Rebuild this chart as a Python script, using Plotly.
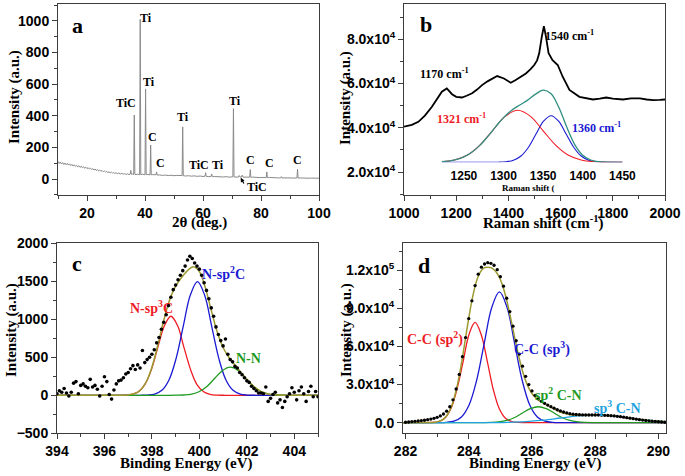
import numpy as np
import plotly.graph_objects as go

# ---------------- Panel a: XRD ----------------
xrd_2theta = [10.0, 10.4, 10.8, 11.2, 11.6, 12.0, 12.4, 12.8, 13.2, 13.6, 14.0, 14.4, 14.8, 15.2, 15.6,
              16.0, 16.4, 16.8, 17.2, 17.6, 18.0, 18.4, 18.8, 19.2, 19.6, 20.0, 20.4, 20.8, 21.2, 21.6,
              22.0, 22.4, 22.8, 23.2, 23.6, 24.0, 24.4, 24.8, 25.2, 25.6, 26.0, 26.4, 26.8, 27.2, 27.6,
              28.0, 28.4, 28.8, 29.2, 29.6, 30.0, 30.5, 31.0, 31.5, 32.0, 32.5, 33.0, 33.5, 34.0, 34.5,
              34.9, 35.1, 35.3, 35.6, 36.1, 36.3, 36.5, 36.9, 37.5, 38.15, 38.35, 38.55, 39.2, 40.0,
              40.2, 40.4, 41.0, 41.75, 41.95, 42.15, 42.7, 43.3, 43.8, 44.0, 44.2, 45.0, 46.0, 47.0,
              48.0, 49.0, 50.0, 51.0, 52.0, 52.8, 53.0, 53.2, 54.0, 55.0, 56.0, 57.0, 58.0, 59.0, 60.0,
              60.7, 60.9, 61.1, 62.0, 62.8, 63.0, 63.2, 64.0, 65.0, 66.0, 67.0, 68.0, 69.0, 70.3, 70.5,
              70.7, 71.5, 72.2, 72.5, 72.8, 73.3, 73.5, 73.8, 74.5, 75.2, 76.1, 76.3, 76.5, 77.0, 78.0,
              79.0, 80.0, 81.0, 81.8, 82.0, 82.2, 83.0, 84.0, 85.0, 86.0, 86.8, 87.0, 87.2, 88.0, 89.0,
              90.0, 91.0, 92.4, 92.6, 92.8, 93.5, 94.5, 95.5, 96.5, 97.5, 98.5, 99.5, 100.0]
xrd_counts = [112, 98, 108, 95, 104, 92, 101, 90, 99, 88, 96, 85, 93, 82, 90,
              80, 87, 77, 84, 74, 81, 71, 78, 68, 75, 66, 72, 63, 69, 60,
              66, 57, 63, 54, 60, 51, 57, 49, 54, 46, 51, 44, 48, 41, 46,
              39, 44, 37, 42, 35, 40, 34, 38, 32, 36, 31, 34, 29, 33, 28,
              31, 55, 30, 32, 29, 405, 30, 28, 31, 27, 1010, 28, 30, 27,
              570, 28, 29, 26, 215, 27, 28, 25, 27, 45, 25, 26, 23, 25,
              22, 24, 21, 23, 20, 22, 330, 21, 19, 21, 18, 20, 17, 19, 16,
              18, 40, 17, 15, 17, 32, 15, 16, 14, 16, 13, 15, 12, 14, 445,
              13, 14, 12, 22, 13, 12, 25, 12, 13, 11, 12, 60, 11, 12, 10,
              11, 9, 10, 9, 45, 9, 10, 8, 9, 7, 8, 15, 7, 8, 6,
              7, 6, 7, 62, 6, 7, 5, 6, 5, 6, 4, 5, 5]
xrd_labels = ["Ti", "Ti", "TiC", "C", "C", "Ti", "TiC", "Ti", "Ti", "C", "C", "C", "TiC"]
xrd_label_x = [40.2, 41.4, 33.3, 42.6, 45.4, 53.0, 58.6, 65.2, 71.0, 76.4, 83.1, 92.6, 78.5]
xrd_label_y = [1021, 616, 479, 268, 99, 390, 89, 89, 496, 120, 99, 120, -52]

# ---------------- Panel b: Raman ----------------
raman_shift = [1000, 1030, 1055, 1080, 1107, 1130, 1145, 1164, 1184, 1200,
               1222, 1240, 1261, 1280, 1299, 1320, 1338, 1357, 1383, 1409,
               1428, 1450, 1467, 1485, 1499, 1510, 1518, 1528, 1536, 1544,
               1554, 1569, 1589, 1608, 1634, 1672, 1700, 1724, 1750, 1775,
               1800, 1839, 1870, 1904, 1930, 1955, 1980, 2000]
raman_int_k = [40.5, 41.3, 42.7, 45.5, 49.5, 53.5, 56.3, 57.8, 55.2, 54.0,
               53.7, 54.5, 55.6, 57.3, 59.3, 61.0, 62.3, 63.4, 62.3, 60.4,
               61.6, 63.4, 64.6, 66.5, 68.4, 70.5, 73.7, 81.2, 86.0, 81.2,
               73.7, 70.6, 68.4, 63.1, 57.1, 54.0, 53.2, 52.8, 53.2, 53.7,
               53.2, 52.8, 53.3, 53.3, 52.8, 52.5, 52.6, 52.8]
raman_yticks = [20, 40, 60, 80]
raman_yticktext = ["2.0x10<sup>4</sup>", "4.0x10<sup>4</sup>", "6.0x10<sup>4</sup>", "8.0x10<sup>4</sup>"]

inset_red_x = [1222, 1238, 1254, 1270, 1286, 1302, 1318, 1334, 1350, 1366, 1382, 1398, 1414, 1430, 1450]
inset_red_y = [0.58, 2.3, 7.0, 16.9, 31.5, 45.9, 52, 45.9, 31.5, 16.9, 7.0, 2.3, 0.58, 0.11, 0]
inset_blue_x = [1222, 1284, 1293.5, 1303, 1312.5, 1322, 1331.5, 1341, 1350.5, 1360, 1369.5, 1379,
                1388.5, 1398, 1407.5, 1417, 1426.5, 1436, 1450]
inset_blue_y = [0, 0.01, 0.1, 0.52, 2.05, 6.3, 15.1, 28.3, 41.1, 46.6, 41.1, 28.3,
                15.1, 6.3, 2.05, 0.52, 0.1, 0.01, 0]
inset_fit_x = [1222, 1230, 1240, 1250, 1260, 1270, 1280, 1290, 1300, 1310, 1320, 1330,
               1340, 1350, 1360, 1370, 1380, 1390, 1400, 1410, 1420, 1430, 1450]
inset_fit_y = [0.6, 1.2, 2.7, 5.4, 10.1, 16.9, 25.7, 35.5, 44.7, 51.9, 57.1, 61.9,
               67.9, 72.1, 68.6, 54.5, 34.8, 17.5, 7.1, 2.3, 0.6, 0.1, 0]
inset_ticks = [1250, 1300, 1350, 1400, 1450]

# ---------------- Panel c: N 1s XPS ----------------
c_dots_start, c_dots_step = 394.0, 0.1
c_dots_y = [20, 60, 40, 90, 30, -10, 40, 160, 180, 20,
            130, 150, 120, 100, 210, 110, 130, 80, -10, 120,
            245, 180, 10, -50, 70, 150, 190, 200, 230, 280,
            300, 350, 390, 340, 400, 360, 590, 430, 470, 500,
            540, 600, 690, 760, 870, 960, 1060, 1180, 1290, 1390,
            1450, 1520, 1580, 1640, 1700, 1780, 1830, 1800, 1740, 1700,
            1660, 1580, 1480, 1380, 1270, 1150, 1040, 900, 800, 720,
            650, 740, 540, 470, 440, 380, 360, 300, 270, 230,
            190, 170, 120, 90, 60, 30, 30, 20, 110, -80,
            -40, 10, 40, -100, -60, -160, -80, -20, 20, 100,
            40, -60, 60, 110, 20, -80, 50, 120, -20, 50,
            -20]
c_red_x = [394.0, 395.5, 396.88, 397.15, 397.43, 397.70, 397.98, 398.25, 398.53, 398.80, 399.08,
           399.35, 399.63, 399.90, 400.18, 400.45, 400.73, 401.1, 402.5, 405.0]
c_red_y = [0, 0, 2, 12, 46, 141, 338, 631, 918, 1040, 918,
           631, 338, 141, 46, 12, 2, 0.2, 0, 0]
c_blue_x = [394.0, 396.0, 397.5, 397.82, 398.12, 398.42, 398.72, 399.02, 399.32, 399.62, 399.92,
            400.22, 400.52, 400.82, 401.12, 401.42, 401.72, 402.02, 402.4, 403.5, 405.0]
c_blue_y = [0, 0, 0.3, 3, 17, 66, 202, 485, 907, 1319, 1495,
            1319, 907, 485, 202, 66, 17, 3, 0.3, 0, 0]
c_green_x = [394.0, 397.0, 398.7, 399.03, 399.35, 399.68, 400.0, 400.33, 400.65, 400.98, 401.3,
             401.63, 401.95, 402.28, 402.6, 402.93, 403.25, 403.58, 403.9, 405.0]
c_green_y = [0, 0, 0.2, 1, 4, 16, 50, 120, 224, 327, 370,
             327, 224, 120, 50, 16, 4, 1, 0.2, 0]
c_fit_x = [394.0, 395.5, 396.75, 397.0, 397.25, 397.5, 397.75, 398.0, 398.25, 398.5, 398.75, 399.0,
           399.25, 399.5, 399.75, 400.0, 400.25, 400.5, 400.75, 401.0, 401.25, 401.5, 401.75,
           402.0, 402.25, 402.5, 402.75, 403.0, 403.25, 403.5, 403.8, 405.0]
c_fit_y = [0, 0, 1, 5, 20, 64, 170, 370, 662, 987, 1259, 1435,
           1549, 1641, 1692, 1628, 1417, 1120, 835, 629, 497, 400, 305,
           211, 128, 67, 31, 12, 4, 1, 0.2, 0]

# ---------------- Panel d: C 1s XPS (values in thousands) ----------------
d_dots_start, d_dots_step = 282.0, 0.1
d_dots_k = [0.3, 0.5, 0.8, 1.0, 1.3, 1.6, 1.9, 2.3, 2.8, 3.4,
            4.2, 5.3, 6.8, 9.0, 12.5, 18, 26.5, 38, 52, 67,
            82, 96, 108, 117, 122.5, 125, 126, 125.5, 124, 120.5,
            115, 107.5, 98, 87.5, 76, 64.5, 54, 44.5, 36.5, 30,
            25, 21.5, 18.8, 16.8, 15.2, 13.8, 12.6, 11.4, 10.2, 9.2,
            8.4, 7.7, 7.1, 6.7, 6.4, 6.2, 6.1, 6.0, 6.0, 6.0,
            6.0, 6.0, 5.9, 5.8, 5.7, 5.5, 5.3, 5.0, 4.7, 4.3,
            3.9, 3.5, 3.1, 2.7, 2.3, 2.0, 1.7, 1.4, 1.1, 0.9,
            0.7, 0.5, 0.3]
d_red_x = [281.92, 282.6, 282.85, 283.05, 283.24, 283.43, 283.62, 283.82, 284.01, 284.2, 284.39,
           284.59, 284.78, 284.97, 285.16, 285.36, 285.55, 285.8, 287.0, 290.24]
d_red_k = [0, 0.02, 0.17, 0.88, 3.47, 10.7, 25.7, 47.9, 69.7, 79, 69.7,
           47.9, 25.7, 10.7, 3.47, 0.88, 0.17, 0.02, 0, 0]
d_blue_x = [281.92, 283.0, 283.29, 283.53, 283.77, 284.01, 284.25, 284.49, 284.73, 284.97, 285.21,
            285.45, 285.69, 285.93, 286.17, 286.41, 286.65, 286.95, 288.0, 290.24]
d_blue_k = [0, 0.03, 0.23, 1.14, 4.5, 13.9, 33.4, 62.5, 90.9, 103, 90.9,
            62.5, 33.4, 13.9, 4.5, 1.14, 0.23, 0.03, 0, 0]
d_green_x = [281.92, 283.5, 284.2, 284.45, 284.7, 284.95, 285.2, 285.45, 285.7, 285.95, 286.2,
             286.45, 286.7, 286.95, 287.2, 287.45, 287.7, 287.95, 288.2, 289.0, 290.24]
d_green_k = [0, 0, 0.005, 0.03, 0.14, 0.55, 1.69, 4.06, 7.6, 11.0, 12.5,
             11.0, 7.6, 4.06, 1.69, 0.55, 0.14, 0.03, 0.005, 0, 0]
d_cyan_x = [281.92, 283.6, 284.15, 284.7, 285.25, 285.8, 286.35, 286.9, 287.45, 288.0,
            288.55, 289.1, 289.65, 290.24]
d_cyan_k = [0, 0.002, 0.01, 0.07, 0.26, 0.81, 1.95, 3.64, 5.3, 6.0,
            5.3, 3.64, 1.95, 0.78]
d_fit_x = [281.92, 282.6, 282.8, 282.9, 283.0, 283.1, 283.2, 283.3, 283.4, 283.5, 283.6, 283.7,
           283.8, 283.9, 284.0, 284.1, 284.2, 284.3, 284.4, 284.5, 284.6, 284.7, 284.8, 284.9,
           285.0, 285.1, 285.2, 285.3, 285.4, 285.5, 285.6, 285.7, 285.8, 285.9, 286.0, 286.1,
           286.2, 286.3, 286.4, 286.5, 286.6, 286.7, 286.8, 286.9, 287.0, 287.1, 287.2, 287.3,
           287.4, 287.6, 287.8, 288.0, 288.2, 288.4, 288.6, 288.8, 289.0, 289.2, 289.4, 289.6,
           289.8, 290.0, 290.24]
d_fit_k = [0, 0.02, 0.1, 0.3, 0.6, 1.4, 2.8, 5.4, 9.6, 16.1, 25.3, 37.1,
           51.3, 66.9, 82.4, 96.3, 107.4, 115.3, 119.9, 122.1, 122.5, 122.1, 120.5, 117.5,
           112.8, 105.7, 96.4, 85.4, 73.5, 61.4, 50.3, 40.7, 33.0, 27.2, 23.0, 20.1,
           18.0, 16.3, 14.8, 13.4, 12.1, 10.8, 9.4, 8.3, 7.5, 6.8, 6.3, 6.0,
           5.9, 5.85, 6.0, 6.0, 5.9, 5.6, 5.2, 4.6, 3.97, 3.3, 2.67, 2.08,
           1.57, 1.15, 0.78]
d_yticks = [0, 30, 60, 90, 120]
d_yticktext = ["0.0", "3.0x10<sup>4</sup>", "6.0x10<sup>4</sup>", "9.0x10<sup>4</sup>", "1.2x10<sup>5</sup>"]

# ---------------- styling ----------------
W, H = 685, 476
RED, BLUE, GREEN, CYAN = "#ee1c25", "#1a1ad2", "#1f9a1f", "#1ea3e0"
OLIVE, TEAL, GREY, AX = "#9c9a30", "#2f8f80", "#8a8a8a", "#3c3c3c"
SERIF = "Liberation Serif"
SANS = "Liberation Sans"


def px_x(p):
    return p / W


def px_y(p):
    return 1 - p / H


c_dots_x = np.round(c_dots_start + c_dots_step * np.arange(len(c_dots_y)), 2)
d_dots_x = np.round(d_dots_start + d_dots_step * np.arange(len(d_dots_k)), 2)

fig = go.Figure()


def line(x, y, color, width, ax, shape="spline"):
    fig.add_trace(go.Scatter(x=x, y=y, mode="lines", line=dict(color=color, width=width, shape=shape),
                             xaxis=ax[0], yaxis=ax[1], hoverinfo="skip"))


# a
line(xrd_2theta, xrd_counts, GREY, 1.0, ("x", "y"), shape="linear")
# b
line(raman_shift, raman_int_k, "black", 1.8, ("x2", "y2"), shape="linear")
line(inset_blue_x, inset_blue_y, BLUE, 1.1, ("x5", "y5"))
line(inset_red_x, inset_red_y, RED, 1.1, ("x5", "y5"))
line(inset_fit_x, inset_fit_y, TEAL, 1.3, ("x5", "y5"))
# c
line(c_red_x, c_red_y, RED, 1.3, ("x3", "y3"))
line(c_blue_x, c_blue_y, BLUE, 1.3, ("x3", "y3"))
line(c_green_x, c_green_y, GREEN, 1.3, ("x3", "y3"))
line(c_fit_x, c_fit_y, OLIVE, 1.5, ("x3", "y3"))
fig.add_trace(go.Scatter(x=c_dots_x, y=c_dots_y, mode="markers", marker=dict(color="black", size=3.6),
                         xaxis="x3", yaxis="y3", hoverinfo="skip"))
# d
line(d_red_x, d_red_k, RED, 1.3, ("x4", "y4"))
line(d_blue_x, d_blue_k, BLUE, 1.3, ("x4", "y4"))
line(d_green_x, d_green_k, GREEN, 1.3, ("x4", "y4"))
line(d_cyan_x, d_cyan_k, CYAN, 1.3, ("x4", "y4"))
line(d_fit_x, d_fit_k, OLIVE, 1.5, ("x4", "y4"))
fig.add_trace(go.Scatter(x=d_dots_x, y=d_dots_k, mode="markers", marker=dict(color="black", size=3.3),
                         xaxis="x4", yaxis="y4", hoverinfo="skip"))

tickfont = dict(family=SANS, size=14, color="black", weight="bold")
common = dict(showline=True, linecolor=AX, linewidth=1, mirror=True, ticks="outside", ticklen=5,
              tickwidth=1, tickcolor=AX, showgrid=False, zeroline=False, tickfont=tickfont,
              automargin=False)


def minor(dtick, tick0=0):
    return dict(ticks="outside", ticklen=3, tickwidth=1, tickcolor=AX, dtick=dtick, tick0=tick0, showgrid=False)


dom_a_x = [px_x(58), px_x(319)]
dom_b_x = [px_x(404), px_x(665)]
dom_c_x = [px_x(57), px_x(318)]
dom_d_x = [px_x(403), px_x(666)]
dom_top_y = [px_y(195), px_y(4)]
dom_bot_y = [px_y(433.3), px_y(243.3)]

fig.update_layout(
    template="none",
    width=W, height=H, margin=dict(l=0, r=0, t=0, b=0, pad=0), autosize=False,
    paper_bgcolor="white", plot_bgcolor="rgba(0,0,0,0)", showlegend=False,
    font=dict(family=SANS, size=12, color="black"),
    xaxis=dict(domain=dom_a_x, anchor="y", range=[10, 100], tickmode="linear", tick0=0, dtick=20,
               minor=minor(10), **common),
    yaxis=dict(domain=dom_top_y, anchor="x", range=[-101, 1107], tickmode="linear", tick0=0, dtick=200,
               minor=minor(100), **common),
    xaxis2=dict(domain=dom_b_x, anchor="y2", range=[1000, 2000], tickmode="linear", tick0=1000, dtick=200,
                minor=minor(100), **common),
    yaxis2=dict(domain=dom_top_y, anchor="x2", range=[9.6, 96.0], tickmode="array", tickvals=raman_yticks,
                ticktext=raman_yticktext, minor=minor(10), **common),
    xaxis3=dict(domain=dom_c_x, anchor="y3", range=[394, 405], tickmode="linear", tick0=394, dtick=2,
                minor=minor(1), **common),
    yaxis3=dict(domain=dom_bot_y, anchor="x3", range=[-500, 2000], tickmode="linear", tick0=0, dtick=500,
                minor=minor(250), **common),
    xaxis4=dict(domain=dom_d_x, anchor="y4", range=[281.92, 290.24], tickmode="linear", tick0=282, dtick=2,
                minor=minor(1), **common),
    yaxis4=dict(domain=dom_bot_y, anchor="x4", range=[-8.4, 141.3], tickmode="array", tickvals=d_yticks,
                ticktext=d_yticktext, minor=minor(15), **common),
    xaxis5=dict(domain=[px_x(441.7), px_x(624.0)], anchor="y5", range=[1222, 1452], showline=False,
                ticks="outside", ticklen=2, tickcolor="rgba(0,0,0,0)", tickmode="array", tickvals=inset_ticks,
                showgrid=False, zeroline=False, automargin=False,
                tickfont=dict(family=SANS, size=12, color="black", weight="bold")),
    yaxis5=dict(domain=[px_y(162.3), px_y(82.3)], anchor="x5", range=[0, 80], visible=False,
                automargin=False),
)

ann = []


def text(x, y, s, size, color="black", xref="paper", yref="paper", angle=0):
    ann.append(dict(x=x, y=y, xref=xref, yref=yref, text="<b>%s</b>" % s, showarrow=False,
                    font=dict(family=SERIF, size=size, color=color), xanchor="center", yanchor="middle",
                    textangle=angle))


# axis titles
text(px_x(200), px_y(222), "2θ (deg.)", 15)
text(px_x(543), px_y(222), "Raman shift (cm<sup>-1</sup>)", 15)
text(px_x(187), px_y(463), "Binding Energy (eV)", 15)
text(px_x(535), px_y(463), "Binding Energy (eV)", 15)
text(px_x(15), px_y(97), "Intensity (a.u.)", 15, angle=-90)
text(px_x(346), px_y(98), "Intensity (a.u.)", 15, angle=-90)
text(px_x(11), px_y(330), "Intensity (a.u.)", 15, angle=-90)
text(px_x(346), px_y(330), "Intensity (a.u.)", 15, angle=-90)

# panel a
text(16.7, 968, "a", 22, xref="x", yref="y")
for s, x, y in zip(xrd_labels, xrd_label_x, xrd_label_y):
    text(x, y, s, 12, xref="x", yref="y")
ann.append(dict(x=73.0, y=8, ax=74.4, ay=-38, xref="x", yref="y", axref="x", ayref="y", text="",
                showarrow=True, arrowhead=2, arrowsize=0.7, arrowwidth=1.2, arrowcolor="black"))

# panel b
text(1083, 86.5, "b", 22, xref="x2", yref="y2")
text(1634, 81.9, "1540 cm<sup>-1</sup>", 12, xref="x2", yref="y2")
text(1155, 64.6, "1170 cm<sup>-1</sup>", 12, xref="x2", yref="y2")
text(1222, 44.3, "1321 cm<sup>-1</sup>", 12, RED, xref="x2", yref="y2")
text(1737, 40.0, "1360 cm<sup>-1</sup>", 12, BLUE, xref="x2", yref="y2")
text(px_x(528), px_y(188), "Raman shift (", 9)

# panel c
text(394.86, 1737, "c", 22, xref="x3", yref="y3")
text(398.0, 1158, "N-sp<sup>3</sup>C", 14, RED, xref="x3", yref="y3")
text(401.0, 1605, "N-sp<sup>2</sup>C", 14, BLUE, xref="x3", yref="y3")
text(402.07, 487, "N-N", 14, GREEN, xref="x3", yref="y3")

# panel d
text(282.58, 124, "d", 22, xref="x4", yref="y4")
text(282.93, 66.2, "C-C (sp<sup>2</sup>)", 14, RED, xref="x4", yref="y4")
text(286.32, 58.3, "C-C (sp<sup>3</sup>)", 14, BLUE, xref="x4", yref="y4")
text(286.83, 22.8, "sp<sup>2</sup> C-N", 14, GREEN, xref="x4", yref="y4")
text(288.7, 12.3, "sp<sup>3</sup> C-N", 14, CYAN, xref="x4", yref="y4")

fig.update_layout(annotations=ann)
fig.write_html("out.html", config={"displayModeBar": False, "staticPlot": True},
               post_script="document.body.style.margin='0px';document.body.style.overflow='hidden';")
